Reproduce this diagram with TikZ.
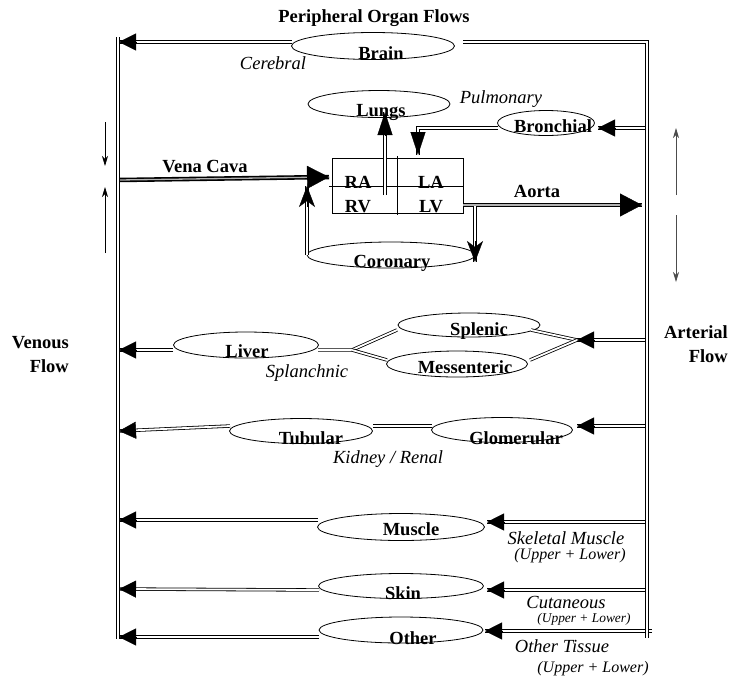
\documentclass[tikz,border=0pt]{standalone}
\usepackage{fontspec}
\setmainfont{Liberation Serif}
\usetikzlibrary{arrows.meta,calc,shapes.geometric}
\begin{document}
\begin{tikzpicture}[x=1pt,y=-1pt,
  org/.style n args={2}{draw, ellipse, line width=0.8pt, minimum width=#1, minimum height=#2, inner sep=0pt},
  lbl/.style={font=\fontsize{18.5}{21}\selectfont\bfseries, inner sep=0pt, anchor=base},
  itl/.style={font=\fontsize{18.5}{21}\selectfont\itshape, inner sep=0pt, anchor=base},
  itm/.style={font=\fontsize{16}{18}\selectfont\itshape, inner sep=0pt, anchor=base},
  its/.style={font=\fontsize{13.4}{15}\selectfont\itshape, inner sep=0pt, anchor=base},
  dbl/.style={draw, double, double distance=1.8pt, line width=0.8pt},
  vdbl/.style={draw, double, double distance=2.1pt, line width=0.85pt},
  tdbl/.style={draw, double=gray!60, double distance=1.3pt, line width=1.6pt},
  tipT/.style={line width=0.4pt, -{Triangle[length=17pt,width=17pt]}},
  tipL/.style={line width=0.4pt, -{Triangle[length=23pt,width=15pt]}},
  tipB/.style={line width=0.4pt, -{Triangle[length=22pt,width=23pt]}},
  tipS/.style={line width=0.4pt, -{Stealth[length=21pt,width=16pt,inset=6pt]}},
  side/.style={line width=0.8pt, -{Stealth[length=10pt,width=6pt,inset=3pt]}},
]
\useasboundingbox (0,0) rectangle (735,678);

% ---------- organ ellipses ----------
\node[org={163pt}{27pt}] (brain) at (373,46) {};
\node[org={142pt}{27pt}] (lungs) at (379,104) {};
\node[org={97pt}{25pt}] (bronchial) at (546,123) {};
\node[org={168pt}{26pt}] (coronary) at (391,255) {};
\node[org={145pt}{26pt}] (liver) at (246,345) {};
\node[org={142pt}{24pt}] (splenic) at (469,325) {};
\node[org={141pt}{26pt}] (messenteric) at (457,364) {};
\node[org={143pt}{25pt}] (tubular) at (301,431) {};
\node[org={141pt}{25pt}] (glomerular) at (502,430) {};
\node[org={167pt}{27pt}] (muscle) at (401,527) {};
\node[org={165pt}{25pt}] (skin) at (401,586) {};
\node[org={164pt}{26pt}] (other) at (401,630) {};

% ---------- heart ----------
\node[draw, line width=0.6pt, minimum width=131pt, minimum height=55pt, inner sep=0pt] (heart) at (397.5,185.5) {};
\coordinate (hmL) at (329,186);
\coordinate (hvT) at (397,156);
\coordinate (hvB) at (397,215);
\draw[line width=0.6pt] (hmL) -- (hmL -| heart.east);
\draw[line width=0.6pt] (hvT) -- (hvB);

% ---------- coordinates ----------
\coordinate (vtop) at (118,37);  \coordinate (vbot) at (118,639);
\coordinate (atop) at (647,42);  \coordinate (abot) at (647,638);
\coordinate (brainL) at (292,42); \coordinate (brainR) at (463,42); \coordinate (vBrain) at (119,42);
\coordinate (lungsFrom) at (385,195); \coordinate (lungsTip) at (385,112);
\coordinate (aBron) at (645,128); \coordinate (bronR) at (598,128);
\coordinate (bronL) at (498,128); \coordinate (bronC) at (418,128); \coordinate (laTip) at (418,155);
\coordinate (vCava) at (119,180); \coordinate (raTip) at (329,177);
\coordinate (corL) at (307,255); \coordinate (corTip) at (307,186);
\coordinate (aoFrom) at (463,205); \coordinate (aoTip) at (642,205);
\coordinate (aoBr) at (475,206); \coordinate (corTip2) at (475,262);
\coordinate (liverL) at (173,350); \coordinate (vLiver) at (119,350);
\coordinate (liverR) at (318,350); \coordinate (spJ) at (352,350);
\coordinate (splL) at (397,330); \coordinate (mesL) at (387,360);
\coordinate (aSpl) at (645,340); \coordinate (arJ) at (577,340);
\coordinate (splR) at (531,330); \coordinate (mesR) at (530,360);
\coordinate (aKid) at (645,426); \coordinate (gloR) at (577,426);
\coordinate (gloL) at (432,426); \coordinate (tubR) at (373,426);
\coordinate (tubL) at (230,426); \coordinate (vKid) at (119,431);
\coordinate (aMus) at (645,522); \coordinate (musR) at (487,522);
\coordinate (musL) at (318,520); \coordinate (vMus) at (119,520);
\coordinate (aSkin) at (645,590); \coordinate (skinR) at (487,590);
\coordinate (skinL) at (319,590); \coordinate (vSkin) at (119,589);
\coordinate (aOth) at (652,631); \coordinate (othR) at (485,631);
\coordinate (othL) at (319,637); \coordinate (vOth) at (119,637);

% ---------- double connectors ----------
\draw[dbl] (brainL) -- (vBrain);
\draw[dbl] (lungsFrom) -- (lungsTip);
\draw[dbl] (aBron) -- (bronR);
\draw[dbl] (bronL) -- (bronC) -- (laTip);
\draw[tdbl] (vCava) -- (raTip);
\draw[dbl] (corL) -- (corTip);
\draw[tdbl] (aoFrom) -- (aoTip);
\draw[dbl] (aoBr) -- (corTip2);
\draw[dbl] (liverL) -- (vLiver);
\draw[dbl] (liverR) -- (spJ) -- (splL);
\draw[dbl] (spJ) -- (mesL);
\draw[dbl] (aSpl) -- (arJ);
\draw[dbl] (arJ) -- (splR);
\draw[dbl] (arJ) -- (mesR);
\draw[dbl] (aKid) -- (gloR);
\draw[dbl] (gloL) -- (tubR);
\draw[dbl] (tubL) -- (vKid);
\draw[dbl] (aMus) -- (musR);
\draw[dbl] (musL) -- (vMus);
\draw[dbl] (aSkin) -- (skinR);
\draw[dbl] (skinL) -- (vSkin);
\draw[dbl] (aOth) -- (othR);
\draw[dbl] (othL) -- (vOth);

% ---------- main vessels ----------
\draw[vdbl] (vtop) -- (vbot);
\draw[vdbl] (brainR) -- (atop) -- (abot);

% ---------- arrow tips ----------
\draw[tipT] ($(vBrain)!17pt!(brainL)$) -- (vBrain);
\draw[tipL] ($(lungsTip)!23pt!(lungsFrom)$) -- (lungsTip);
\draw[tipT] ($(bronR)!17pt!(aBron)$) -- (bronR);
\draw[tipL] ($(laTip)!23pt!(bronC)$) -- (laTip);
\draw[tipB] ($(raTip)!22pt!(vCava)$) -- (raTip);
\draw[tipS] ($(corTip)!21pt!(corL)$) -- (corTip);
\draw[tipB] ($(aoTip)!22pt!(aoFrom)$) -- (aoTip);
\draw[tipS] ($(corTip2)!21pt!(aoBr)$) -- (corTip2);
\draw[tipT] ($(vLiver)!17pt!(liverL)$) -- (vLiver);
\draw[tipT] ($(arJ)!17pt!(aSpl)$) -- (arJ);
\draw[tipT] ($(gloR)!17pt!(aKid)$) -- (gloR);
\draw[tipT] ($(vKid)!17pt!(tubL)$) -- (vKid);
\draw[tipT] ($(musR)!17pt!(aMus)$) -- (musR);
\draw[tipT] ($(vMus)!17pt!(musL)$) -- (vMus);
\draw[tipT] ($(skinR)!17pt!(aSkin)$) -- (skinR);
\draw[tipT] ($(vSkin)!17pt!(skinL)$) -- (vSkin);
\draw[tipT] ($(othR)!17pt!(aOth)$) -- (othR);
\draw[tipT] ($(vOth)!17pt!(othL)$) -- (vOth);

% ---------- side flow arrows ----------
\coordinate (lsA) at (105,122); \coordinate (lsB) at (105,166);
\coordinate (lsC) at (105,253); \coordinate (lsD) at (105,187);
\coordinate (rsA) at (676,195); \coordinate (rsB) at (676,128);
\coordinate (rsC) at (676,215); \coordinate (rsD) at (676,282);
\draw[side] (lsA) -- (lsB);
\draw[side] (lsC) -- (lsD);
\draw[side, draw=black!70] (rsA) -- (rsB);
\draw[side, draw=black!70] (rsC) -- (rsD);

% ---------- labels ----------
\node[lbl] (title) at (374,22) {Peripheral Organ Flows};
\node[lbl] (tBrain) at (381,59) {Brain};
\node[itl] (tCere) at (273,69) {Cerebral};
\node[lbl] (tLungs) at (381,116) {Lungs};
\node[itl] (tPulm) at (501,103) {Pulmonary};
\node[lbl] (tBron) at (553,132) {Bronchial};
\node[lbl] (tVena) at (205,172) {Vena Cava};
\node[lbl] (tRA) at (358,188) {RA};
\node[lbl] (tLA) at (431,188) {LA};
\node[lbl] (tRV) at (358,212) {RV};
\node[lbl] (tLV) at (431,212) {LV};
\node[lbl] (tAorta) at (537,197) {Aorta};
\node[lbl] (tCor) at (392,267) {Coronary};
\node[lbl, anchor=base east] (tVen1) at (69,348) {Venous};
\node[lbl, anchor=base east] (tVen2) at (69,372) {Flow};
\node[lbl, anchor=base east] (tArt1) at (728,338) {Arterial};
\node[lbl, anchor=base east] (tArt2) at (728,362) {Flow};
\node[lbl] (tLiver) at (247,357) {Liver};
\node[itl] (tSplan) at (307,377) {Splanchnic};
\node[lbl] (tSplen) at (479,335) {Splenic};
\node[lbl] (tMes) at (465,373) {Messenteric};
\node[lbl] (tTub) at (311,444) {Tubular};
\node[lbl] (tGlom) at (516,444) {Glomerular};
\node[itl] (tKid) at (388,463) {Kidney / Renal};
\node[lbl] (tMus) at (411,535) {Muscle};
\node[itl] (tSkel) at (566,544) {Skeletal Muscle};
\node[itm] (tUL1) at (570,559) {(Upper + Lower)};
\node[lbl] (tSkin) at (403,599) {Skin};
\node[itl] (tCut) at (566,608) {Cutaneous};
\node[its] (tUL2) at (584,622) {(Upper + Lower)};
\node[lbl] (tOther) at (413,644) {Other};
\node[itl] (tOT) at (562,652) {Other Tissue};
\node[itm] (tUL3) at (593,672) {(Upper + Lower)};
\end{tikzpicture}
\end{document}
